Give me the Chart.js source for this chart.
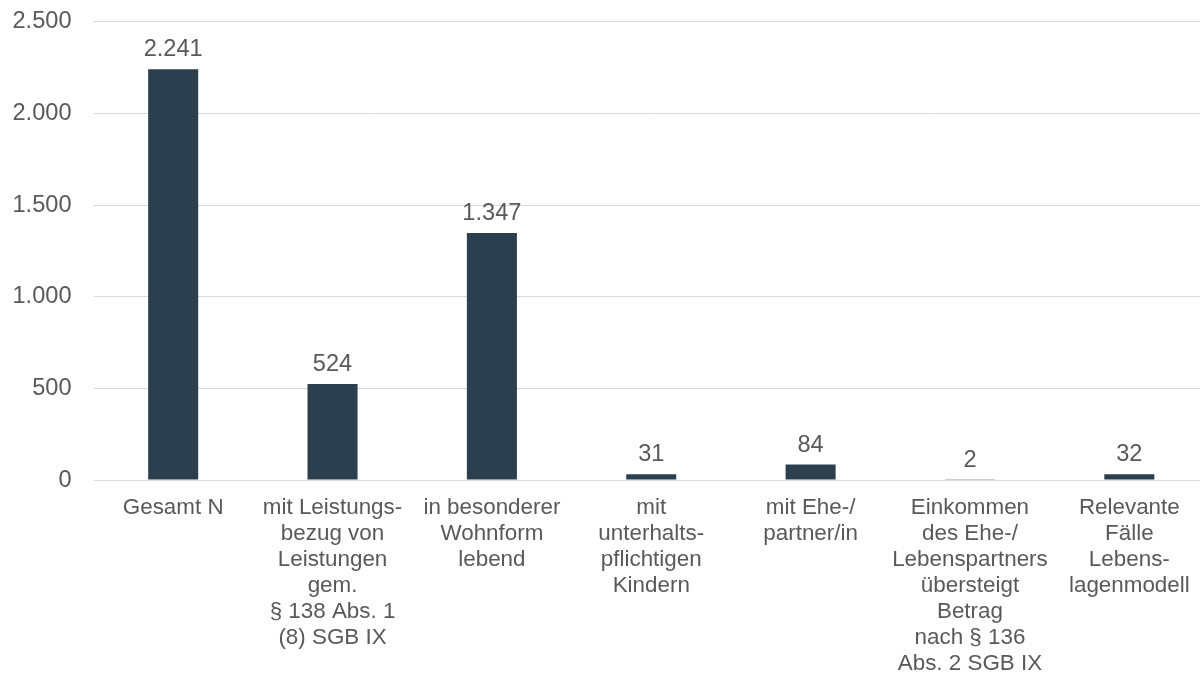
<!DOCTYPE html>
<html>
<head>
<meta charset="utf-8">
<title>Fallzahlen</title>
<script src="https://cdn.jsdelivr.net/npm/chart.js@4/dist/chart.umd.min.js"></script>
<style>
  html, body { margin: 0; padding: 0; background: #fff; overflow: hidden; }
  #chartBox { width: 1200px; height: 673px; overflow: hidden; }
</style>
</head>
<body>
<div id="chartBox">
  <canvas id="fallChart" width="1209" height="673"></canvas>
</div>
<script>
// categories (multi-line, as in the original)
var categories = [
    ["Gesamt N"],
    ["mit Leistungs-", "bezug von", "Leistungen", "gem.", "\u00a7 138 Abs. 1", "(8) SGB IX"],
    ["in besonderer", "Wohnform", "lebend"],
    ["mit", "unterhalts-", "pflichtigen", "Kindern"],
    ["mit Ehe-/", "partner/in"],
    ["Einkommen", "des Ehe-/", "Lebenspartners", "\u00fcbersteigt", "Betrag", "nach \u00a7 136", "Abs. 2 SGB IX"],
    ["Relevante", "F\u00e4lle", "Lebens-", "lagenmodell"]
];

// number of cases
var values = [2241, 524, 1347, 31, 84, 2, 32];

// y axis
var yTicks = [0, 500, 1000, 1500, 2000, 2500];

var barColor = '#2B3F4E';
var textColor = '#595959';
var gridColor = '#D9D9D9';
var fontFamily = '"Liberation Sans", Arial, sans-serif';

// 1.234 style thousand separator
function fmt(v) {
    return String(v).replace(/\B(?=(\d{3})+(?!\d))/g, '.');
}

// draws the value above each bar
var valueLabels = {
    id: 'valueLabels',
    afterDatasetsDraw: function(chart) {
        var ctx = chart.ctx;
        var meta = chart.getDatasetMeta(0);
        ctx.save();
        ctx.font = '23.6px ' + fontFamily;
        ctx.fillStyle = textColor;
        ctx.textAlign = 'center';
        ctx.textBaseline = 'alphabetic';
        meta.data.forEach(function(bar, i) {
            ctx.fillText(fmt(chart.data.datasets[0].data[i]), bar.x, bar.y - 13);
        });
        ctx.restore();
    }
};

var ctx = document.getElementById('fallChart').getContext('2d');
var fallChart = new Chart(ctx, {
    type: 'bar',
    data: {
        labels: categories,
        datasets: [{
            data: values,
            backgroundColor: barColor,
            borderWidth: 0,
            barPercentage: 0.314,
            categoryPercentage: 1
        }]
    },
    options: {
        responsive: false,
        animation: false,
        events: [],
        layout: { padding: { top: 21.7, right: 0, bottom: 0, left: 0 } },
        plugins: {
            legend: { display: false },
            tooltip: { enabled: false }
        },
        scales: {
            x: {
                grid: { display: false, drawTicks: false },
                border: { display: false },
                ticks: {
                    color: textColor,
                    font: { family: fontFamily, size: 22.4, lineHeight: 1.16 },
                    padding: 15,
                    maxRotation: 0,
                    minRotation: 0,
                    autoSkip: false
                },
                afterFit: function(scale) {
                    scale.height = 193;
                    scale.paddingLeft = 0;
                    scale.paddingRight = 0;
                }
            },
            y: {
                min: 0,
                max: 2500,
                afterBuildTicks: function(scale) {
                    scale.ticks = yTicks.map(function(v) { return { value: v }; });
                },
                grid: { color: gridColor, lineWidth: 1, drawTicks: false },
                border: { display: false },
                ticks: {
                    color: textColor,
                    font: { family: fontFamily, size: 23.6 },
                    padding: 22,
                    callback: function(v) { return fmt(v); }
                },
                afterFit: function(scale) {
                    scale.width = 93.5;
                    scale.paddingTop = 0;
                    scale.paddingBottom = 0;
                }
            }
        }
    },
    plugins: [valueLabels]
});
</script>
</body>
</html>
